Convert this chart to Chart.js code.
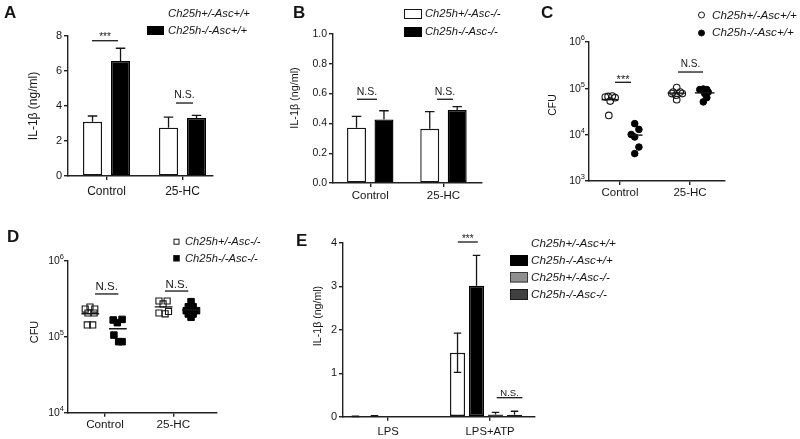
<!DOCTYPE html>
<html>
<head>
<meta charset="utf-8">
<script src="https://cdn.jsdelivr.net/npm/chart.js@4.4.1/dist/chart.umd.min.js"></script>
<style>
html, body { margin: 0; padding: 0; background: #fff; }
#wrap { position: relative; width: 800px; height: 439px; overflow: hidden; background: #fff; }
#wrap canvas { position: absolute; left: 0; top: 0; }
</style>
</head>
<body>
<div id="wrap">
  <canvas id="cA" width="800" height="439"></canvas>
  <canvas id="cB" width="800" height="439"></canvas>
  <canvas id="cC" width="800" height="439"></canvas>
  <canvas id="cD" width="800" height="439"></canvas>
  <canvas id="cE" width="800" height="439"></canvas>
</div>
<script>
// ---------------- DATA ----------------
const categories = ['Control', '25-HC'];
const eCategories = ['LPS', 'LPS+ATP'];

// Panel A (IL-1β, ng/ml)
const aNames = ['Ch25h+/-Asc+/+', 'Ch25h-/-Asc+/+'];
const aHet = [3.1, 2.76];
const aHetErr = [0.33, 0.6];
const aKo = [6.57, 3.31];
const aKoErr = [0.73, 0.15];
const aTicks = [0, 2, 4, 6, 8];

// Panel B (IL-1β, ng/ml)
const bNames = ['Ch25h+/-Asc-/-', 'Ch25h-/-Asc-/-'];
const bHet = [0.371, 0.364];
const bHetErr = [0.076, 0.115];
const bKo = [0.427, 0.49];
const bKoErr = [0.058, 0.022];
const bTicks = [0, 0.2, 0.4, 0.6, 0.8, 1.0];

// Panel C (CFU) - individual points and horizontal spread
const cNames = ['Ch25h+/-Asc+/+', 'Ch25h-/-Asc+/+'];
const cHetControl = [65000, 67000, 68000, 63000, 53000, 26000];
const cHetControlX = [-0.21, -0.17, -0.11, -0.07, -0.14, -0.16];
const cKoControl = [17300, 13000, 10100, 8900, 5400, 3900];
const cKoControlX = [0.21, 0.27, 0.16, 0.21, 0.27, 0.21];
const cHetHC = [104000, 83000, 83000, 71000, 77000, 77000, 57000];
const cHetHCX = [-0.19, -0.24, -0.14, -0.2, -0.26, -0.11, -0.19];
const cKoHC = [94000, 96500, 94000, 83000, 77000, 63000, 51000];
const cKoHCX = [0.14, 0.19, 0.24, 0.26, 0.21, 0.24, 0.19];
const cLogTicks = [1e3, 1e4, 1e5, 1e6];

// Panel D (CFU)
const dNames = ['Ch25h+/-Asc-/-', 'Ch25h-/-Asc-/-'];
const dHetControl = [231000, 246000, 231000, 205000, 205000, 143000, 143000];
const dHetControlX = [-0.29, -0.22, -0.15, -0.25, -0.16, -0.26, -0.18];
const dKoControl = [166000, 153000, 169000, 105000, 86000, 86000];
const dKoControlX = [0.12, 0.18, 0.25, 0.13, 0.2, 0.25];
const dHetHC = [295000, 295000, 270000, 205000, 200000, 215000];
const dHetHCX = [-0.21, -0.09, -0.15, -0.21, -0.12, -0.07];
const dKoHC = [289000, 248000, 248000, 220000, 220000, 220000, 199000, 199000, 180000];
const dKoHCX = [0.26, 0.22, 0.29, 0.19, 0.27, 0.34, 0.22, 0.29, 0.26];
const dLogTicks = [1e4, 1e5, 1e6];

// Panel E (IL-1β, ng/ml)
const eNames = ['Ch25h+/-Asc+/+', 'Ch25h-/-Asc+/+', 'Ch25h+/-Asc-/-', 'Ch25h-/-Asc-/-'];
const eHetAsc = [0.005, 1.47];
const eHetAscErr = [0.01, 0.45];
const eKoAsc = [0.01, 3.01];
const eKoAscErr = [0.012, 0.7];
const eHetNoAsc = [0.0, 0.05];
const eHetNoAscErr = [0, 0.05];
const eKoNoAsc = [0.0, 0.045];
const eKoNoAscErr = [0, 0.08];
const eTicks = [0, 1, 2, 3, 4];

// ---------------- STYLE / LAYOUT ----------------
const FONT = '"Liberation Sans", Arial, Helvetica, sans-serif';
const INK = '#161616';
const AX = '#222222';
const LW = 1.4;
const YW = 40, XH = 24;

function pts(vals, xs, base) { return vals.map((v, i) => ({ x: base + xs[i], y: v })); }
function mean(a) { return a.reduce((s, v) => s + v, 0) / a.length; }
function meanLine(vals, xs, base, hw) {
  const c = base + mean(xs), m = mean(vals);
  return { type: 'line', data: [{ x: c - hw, y: m }, { x: c + hw, y: m }], borderColor: INK, borderWidth: 1.4,
           pointRadius: 0, showLine: true, fill: false };
}

function xLinear(min, max, tickVals, labels, size, pad, dashed) {
  return {
    type: 'linear', min, max, offset: false,
    afterBuildTicks: s => { s.ticks = tickVals.map(v => ({ value: v })); },
    afterFit: s => { s.height = XH; },
    ticks: { callback: (v, i) => labels[i], font: { family: FONT, size }, color: INK, padding: pad,
             maxRotation: 0, autoSkip: false },
    grid: { display: true, drawOnChartArea: false, drawTicks: true, tickLength: 4, color: AX, lineWidth: LW, offset: false },
    border: { display: true, color: AX, width: LW, dash: dashed ? [3, 2] : [] }
  };
}
function yLinear(max, tickVals, fmt, size) {
  return {
    type: 'linear', min: 0, max,
    afterBuildTicks: s => { s.ticks = tickVals.map(v => ({ value: v })); },
    afterFit: s => { s.width = YW; },
    ticks: { callback: v => fmt(v), font: { family: FONT, size }, color: INK, padding: 2, autoSkip: false },
    grid: { display: true, drawOnChartArea: false, drawTicks: true, tickLength: 4, color: AX, lineWidth: LW },
    border: { display: true, color: AX, width: LW }
  };
}
function yLog(min, max, tickVals) {
  return {
    type: 'logarithmic', min, max,
    afterBuildTicks: s => { s.ticks = tickVals.map(v => ({ value: v })); },
    afterFit: s => { s.width = YW; },
    ticks: { display: false },
    grid: { display: true, drawOnChartArea: false, drawTicks: true, tickLength: 4, color: AX, lineWidth: LW },
    border: { display: true, color: AX, width: LW }
  };
}

function txt(ctx, s, x, y, font, align, rot) {
  ctx.save();
  ctx.font = font; ctx.fillStyle = INK; ctx.textAlign = align || 'left'; ctx.textBaseline = 'middle';
  if (rot) { ctx.translate(x, y); ctx.rotate(rot); ctx.fillText(s, 0, 0); }
  else ctx.fillText(s, x, y);
  ctx.restore();
}

function deco(cfg) {
  return {
    id: 'deco' + cfg.id,
    afterDatasetsDraw(chart) {
      if (!cfg.errors) return;
      const ctx = chart.ctx, ys = chart.scales.y;
      ctx.save(); ctx.strokeStyle = INK; ctx.lineWidth = 1.3;
      chart.data.datasets.forEach((ds, di) => {
        const errs = cfg.errors[di]; if (!errs) return;
        const both = cfg.errBoth && cfg.errBoth[di];
        chart.getDatasetMeta(di).data.forEach((bar, i) => {
          const e = errs[i]; if (!e) return;
          const v = ds.data[i].y;
          const top = ys.getPixelForValue(v + e);
          const bot = both ? ys.getPixelForValue(Math.max(v - e, 0)) : bar.y;
          const c = bar.width * 0.25;
          ctx.beginPath();
          ctx.moveTo(bar.x, bot); ctx.lineTo(bar.x, top);
          ctx.moveTo(bar.x - c, top); ctx.lineTo(bar.x + c, top);
          if (both) { ctx.moveTo(bar.x - c, bot); ctx.lineTo(bar.x + c, bot); }
          ctx.stroke();
        });
      });
      ctx.restore();
    },
    afterDraw(chart) {
      const ctx = chart.ctx, xs = chart.scales.x, ys = chart.scales.y;
      txt(ctx, cfg.letter.t, cfg.letter.x, cfg.letter.y, `bold 17px ${FONT}`, 'left');
      txt(ctx, cfg.ytitle.t, cfg.ytitle.x, cfg.ytitle.y, `${cfg.ytitle.size}px ${FONT}`, 'center', -Math.PI / 2);
      if (cfg.logTicks) {
        cfg.logTicks.forEach(v => {
          const y = ys.getPixelForValue(v);
          const ex = String(Math.round(Math.log10(v)));
          ctx.save();
          ctx.font = `7.5px ${FONT}`;
          const we = ctx.measureText(ex).width;
          ctx.restore();
          const xr = chart.chartArea.left - 4 - we;
          txt(ctx, '10', xr, y + 0.5, `10.5px ${FONT}`, 'right');
          txt(ctx, ex, xr, y - 3.8, `7.5px ${FONT}`, 'left');
        });
      }
      ctx.save();
      cfg.legend.forEach(L => {
        ctx.lineWidth = 1;
        if (L.m === 'box') {
          ctx.fillStyle = L.fill; ctx.fillRect(L.mx, L.my, L.mw, L.mh);
          ctx.strokeStyle = L.stroke; ctx.strokeRect(L.mx + 0.5, L.my + 0.5, L.mw - 1, L.mh - 1);
        } else if (L.m === 'circle') {
          ctx.beginPath(); ctx.arc(L.mx, L.my, 3, 0, Math.PI * 2);
          if (L.fill) { ctx.fillStyle = L.fill; ctx.fill(); }
          ctx.strokeStyle = INK; ctx.stroke();
        } else if (L.m === 'square') {
          const h = L.s / 2;
          if (L.fill) { ctx.fillStyle = L.fill; ctx.fillRect(L.mx - h, L.my - h, L.s, L.s); }
          ctx.strokeStyle = INK; ctx.strokeRect(L.mx - h, L.my - h, L.s, L.s);
        }
        txt(ctx, L.t, L.tx, L.ty, `italic ${cfg.legendSize}px ${FONT}`, 'left');
      });
      ctx.restore();
      (cfg.sig || []).forEach(s => {
        const x1 = xs.getPixelForValue(s.x1), x2 = xs.getPixelForValue(s.x2), y = ys.getPixelForValue(s.y);
        ctx.save(); ctx.strokeStyle = INK; ctx.lineWidth = 1.3;
        ctx.beginPath(); ctx.moveTo(x1, y); ctx.lineTo(x2, y); ctx.stroke(); ctx.restore();
        txt(ctx, s.label, (x1 + x2) / 2, y - s.dy, `${s.size}px ${FONT}`, 'center');
      });
    }
  };
}

function baseOptions(plot, xScale, yScale) {
  return {
    responsive: false, maintainAspectRatio: false, animation: false, events: [], devicePixelRatio: 1,
    layout: { padding: { left: plot.l - YW, top: plot.t, right: 800 - plot.r, bottom: 439 - plot.b - XH } },
    plugins: { legend: { display: false }, tooltip: { enabled: false }, title: { display: false } },
    scales: { x: xScale, y: yScale }
  };
}
function bars(vals, fill, stroke) {
  return { data: vals.map((v, i) => ({ x: i + 1, y: v })), backgroundColor: fill, borderColor: stroke,
           borderWidth: 1.4, borderSkipped: false };
}

// ---------------- PANEL A ----------------
{
  const plot = { l: 68, t: 36, r: 213, b: 176 };
  const opts = baseOptions(plot, xLinear(0.493, 2.401, [1, 2], categories, 12, 4.5),
                           yLinear(8, aTicks, v => String(v), 11));
  opts.datasets = { bar: { categoryPercentage: 0.737, barPercentage: 0.68 } };
  new Chart(document.getElementById('cA'), {
    type: 'bar',
    data: { datasets: [Object.assign(bars(aHet, '#ffffff', INK), { label: aNames[0] }),
                       Object.assign(bars(aKo, '#000000', '#000000'), { label: aNames[1] })] },
    options: opts,
    plugins: [deco({
      id: 'A', letter: { t: 'A', x: 4, y: 13 }, ytitle: { t: 'IL-1β (ng/ml)', x: 34, y: 106, size: 12 },
      errors: [aHetErr, aKoErr], legendSize: 11.3,
      legend: [
        { m: 'none', t: aNames[0], tx: 168, ty: 14 },
        { m: 'box', fill: '#000', stroke: '#000', mx: 147, my: 26, mw: 17, mh: 9, t: aNames[1], tx: 168, ty: 30.5 }
      ],
      sig: [{ x1: 0.809, x2: 1.151, y: 7.73, label: '***', dy: 3.4, size: 10 },
            { x1: 1.914, x2: 2.138, y: 4.17, label: 'N.S.', dy: 7.5, size: 10.5 }]
    })]
  });
}

// ---------------- PANEL B ----------------
{
  const plot = { l: 333, t: 34, r: 482, b: 183 };
  const opts = baseOptions(plot, xLinear(0.4915, 2.526, [1, 2], categories, 11.5, 1.8),
                           yLinear(1, bTicks, v => v.toFixed(1), 10.5));
  opts.datasets = { bar: { categoryPercentage: 0.75, barPercentage: 0.69 } };
  new Chart(document.getElementById('cB'), {
    type: 'bar',
    data: { datasets: [Object.assign(bars(bHet, '#ffffff', INK), { label: bNames[0] }),
                       Object.assign(bars(bKo, '#000000', '#000000'), { label: bNames[1] })] },
    options: opts,
    plugins: [deco({
      id: 'B', letter: { t: 'B', x: 293, y: 13 }, ytitle: { t: 'IL-1β (ng/ml)', x: 295, y: 98, size: 10.8 },
      errors: [bHetErr, bKoErr], legendSize: 11.2,
      legend: [
        { m: 'box', fill: '#fff', stroke: INK, mx: 404, my: 9, mw: 18, mh: 10, t: bNames[0], tx: 425, ty: 14 },
        { m: 'box', fill: '#000', stroke: '#000', mx: 404, my: 27, mw: 18, mh: 10, t: bNames[1], tx: 425, ty: 31.5 }
      ],
      sig: [{ x1: 0.819, x2: 1.092, y: 0.562, label: 'N.S.', dy: 7.3, size: 10.5 },
            { x1: 1.911, x2: 2.13, y: 0.562, label: 'N.S.', dy: 7.3, size: 10.5 }]
    })]
  });
}

// ---------------- PANEL C ----------------
{
  const plot = { l: 589, t: 42, r: 725, b: 181 };
  const open = { pointStyle: 'circle', pointRadius: 3.3, backgroundColor: 'rgba(255,255,255,0)', borderColor: INK, borderWidth: 1.1, showLine: false };
  const filled = { pointStyle: 'circle', pointRadius: 3.3, backgroundColor: '#000', borderColor: '#000', borderWidth: 1, showLine: false };
  new Chart(document.getElementById('cC'), {
    type: 'scatter',
    data: { datasets: [
      meanLine(cHetControl, cHetControlX, 1, 0.12), meanLine(cKoControl, cKoControlX, 1, 0.1),
      meanLine(cHetHC, cHetHCX, 2, 0.13), meanLine(cKoHC, cKoHCX, 2, 0.14),
      Object.assign({ label: cNames[0], data: pts(cHetControl, cHetControlX, 1) }, open),
      Object.assign({ label: cNames[1], data: pts(cKoControl, cKoControlX, 1) }, filled),
      Object.assign({ label: cNames[0], data: pts(cHetHC, cHetHCX, 2) }, open),
      Object.assign({ label: cNames[1], data: pts(cKoHC, cKoHCX, 2) }, filled)
    ] },
    options: baseOptions(plot, xLinear(0.557, 2.5, [1, 2], categories, 11.5, 1.2), yLog(1e3, 1e6, cLogTicks)),
    plugins: [deco({
      id: 'C', letter: { t: 'C', x: 541, y: 13 }, ytitle: { t: 'CFU', x: 553, y: 105, size: 10.5 },
      logTicks: cLogTicks, legendSize: 11.7,
      legend: [
        { m: 'circle', fill: null, mx: 701.5, my: 15, t: cNames[0], tx: 712, ty: 15.5 },
        { m: 'circle', fill: '#000', mx: 701.5, my: 33, t: cNames[1], tx: 712, ty: 32.5 }
      ],
      sig: [{ x1: 0.929, x2: 1.157, y: 1.35e5, label: '***', dy: 2.2, size: 11 },
            { x1: 1.829, x2: 2.186, y: 2.25e5, label: 'N.S.', dy: 7.7, size: 10 }]
    })]
  });
}

// ---------------- PANEL D ----------------
{
  const plot = { l: 68, t: 260.7, r: 217, b: 412.7 };
  const open = { pointStyle: 'rect', pointRadius: 4.3, backgroundColor: 'rgba(255,255,255,0)', borderColor: INK, borderWidth: 1.1, showLine: false };
  const filled = { pointStyle: 'rect', pointRadius: 4.6, backgroundColor: '#000', borderColor: '#000', borderWidth: 1, showLine: false };
  new Chart(document.getElementById('cD'), {
    type: 'scatter',
    data: { datasets: [
      meanLine(dHetControl, dHetControlX, 1, 0.13), meanLine(dKoControl, dKoControlX, 1, 0.13),
      meanLine(dHetHC, dHetHCX, 2, 0.13), meanLine(dKoHC, dKoHCX, 2, 0.13),
      Object.assign({ label: dNames[0], data: pts(dHetControl, dHetControlX, 1) }, open),
      Object.assign({ label: dNames[1], data: pts(dKoControl, dKoControlX, 1) }, filled),
      Object.assign({ label: dNames[0], data: pts(dHetHC, dHetHCX, 2) }, open),
      Object.assign({ label: dNames[1], data: pts(dKoHC, dKoHCX, 2) }, filled)
    ] },
    options: baseOptions(plot, xLinear(0.458, 2.64, [1, 2], categories, 11.7, 1), yLog(1e4, 1e6, dLogTicks)),
    plugins: [deco({
      id: 'D', letter: { t: 'D', x: 7, y: 237.5 }, ytitle: { t: 'CFU', x: 35, y: 332, size: 11 },
      logTicks: dLogTicks, legendSize: 11.2,
      legend: [
        { m: 'square', fill: null, s: 5, mx: 176.5, my: 241.7, t: dNames[0], tx: 185, ty: 242 },
        { m: 'square', fill: '#000', s: 5.5, mx: 176.5, my: 258.3, t: dNames[1], tx: 185, ty: 258.5 }
      ],
      sig: [{ x1: 0.854, x2: 1.195, y: 3.65e5, label: 'N.S.', dy: 7, size: 11.5 },
            { x1: 1.878, x2: 2.22, y: 3.99e5, label: 'N.S.', dy: 6.5, size: 11.5 }]
    })]
  });
}

// ---------------- PANEL E ----------------
{
  const plot = { l: 343, t: 242.7, r: 535, b: 416.7 };
  const opts = baseOptions(plot, xLinear(0.598, 2.48, [1.04, 2.04], eCategories, 11.3, 4, true),
                           yLinear(4, eTicks, v => String(v), 11));
  opts.datasets = { bar: { categoryPercentage: 0.745, barPercentage: 0.79 } };
  new Chart(document.getElementById('cE'), {
    type: 'bar',
    data: { datasets: [
      Object.assign(bars(eHetAsc, '#ffffff', INK), { label: eNames[0] }),
      Object.assign(bars(eKoAsc, '#000000', '#000000'), { label: eNames[1] }),
      Object.assign(bars(eHetNoAsc, '#8f8f8f', '#3a3a3a'), { label: eNames[2] }),
      Object.assign(bars(eKoNoAsc, '#404040', '#1a1a1a'), { label: eNames[3] })
    ] },
    options: opts,
    plugins: [deco({
      id: 'E', letter: { t: 'E', x: 296, y: 241 }, ytitle: { t: 'IL-1β (ng/ml)', x: 318, y: 316, size: 10.6 },
      errors: [eHetAscErr, eKoAscErr, eHetNoAscErr, eKoNoAscErr], errBoth: [true, false, false, false],
      legendSize: 11.7,
      legend: [
        { m: 'none', t: eNames[0], tx: 531, ty: 243.5 },
        { m: 'box', fill: '#000', stroke: '#000', mx: 510, my: 255, mw: 18, mh: 11, t: eNames[1], tx: 531, ty: 260.5 },
        { m: 'box', fill: '#8f8f8f', stroke: '#3a3a3a', mx: 510, my: 272, mw: 18, mh: 10.5, t: eNames[2], tx: 531, ty: 277.3 },
        { m: 'box', fill: '#404040', stroke: '#1a1a1a', mx: 510, my: 289, mw: 18, mh: 11, t: eNames[3], tx: 531, ty: 294.5 }
      ],
      sig: [{ x1: 1.723, x2: 1.919, y: 4.016, label: '***', dy: 3.2, size: 10 },
            { x1: 2.105, x2: 2.356, y: 0.437, label: 'N.S.', dy: 4.7, size: 9.5 }]
    })]
  });
}
</script>
</body>
</html>
